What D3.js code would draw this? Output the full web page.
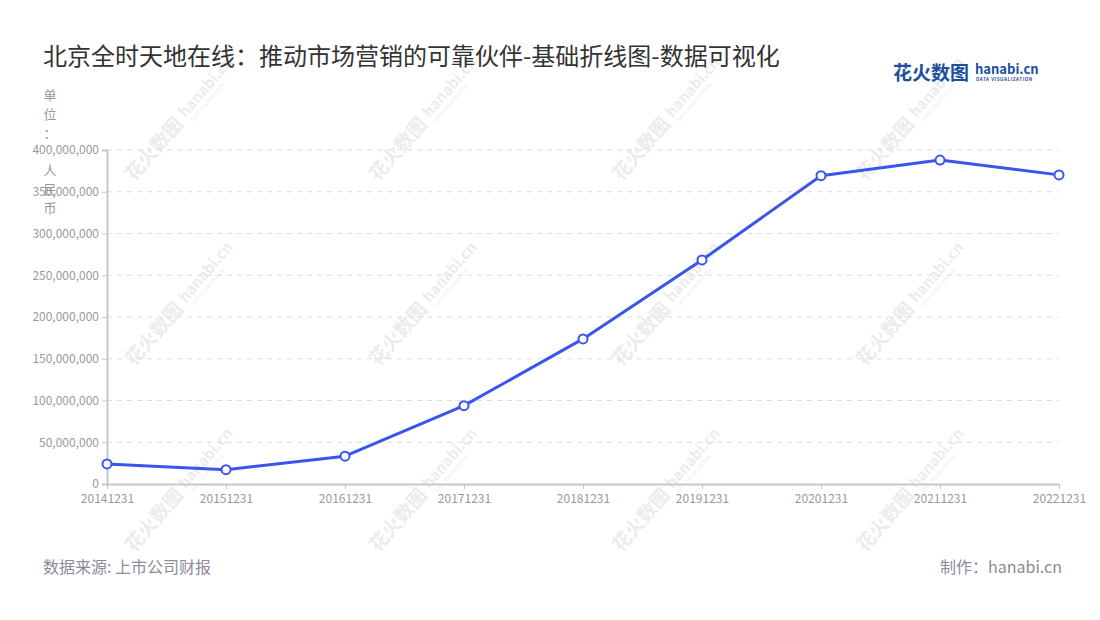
<!DOCTYPE html>
<html><head><meta charset="utf-8">
<script src="https://cdn.jsdelivr.net/npm/d3@7/dist/d3.min.js"></script>
<style>
html,body{margin:0;padding:0;background:#fff;}
svg{display:block;font-family:"Noto Sans CJK SC","Noto Sans",sans-serif;}
</style></head>
<body>
<svg id="c" width="1100" height="620"></svg>
<script>
const titleText = "北京全时天地在线：推动市场营销的可靠伙伴-基础折线图-数据可视化";
const categories = ["20141231","20151231","20161231","20171231","20181231","20191231","20201231","20211231","20221231"];
const values = [24000000, 17200000, 33300000, 93800000, 173800000, 268300000, 369200000, 388000000, 370200000];
const yTicks = [0, 50000000, 100000000, 150000000, 200000000, 250000000, 300000000, 350000000, 400000000];
const unitLines = ["单","位","：","","人","民","币"];
const sourceText = "数据来源: 上市公司财报";
const makerText = "制作：hanabi.cn";

(function(){
const svg = d3.select("#c");
const pL = 107, pR = 1059, pT = 150, pB = 484;

const x = d3.scalePoint().domain(categories).range([pL, pR]);
const y = d3.scaleLinear().domain([0, 400000000]).range([pB, pT]);

// watermarks
const wmX = [134, 378, 621, 865], wmY = [182, 367, 553];
const wm = svg.append("g").attr("class","wm");
wmY.forEach(wy => wmX.forEach(wx => {
  const g = wm.append("g").attr("transform", `translate(${wx},${wy}) rotate(-49)`).attr("opacity",0.4);
  g.append("text").attr("x",0).attr("y",0).attr("font-size",19).attr("font-weight","bold")
    .attr("fill","#d0d0d0").text("花火数图");
  g.append("text").attr("x",82).attr("y",-3).attr("font-size",15).attr("font-weight","bold")
    .attr("fill","#d0d0d0").text("hanabi.cn");
  g.append("text").attr("x",84).attr("y",5).attr("font-size",5)
    .attr("fill","#d0d0d0").text("DATA VISUALIZATION");
}));

// title
svg.append("text").attr("x",43).attr("y",65).attr("font-size",24).attr("fill","#333")
  .text(titleText);

// logo
const logo = svg.append("g");
logo.append("text").attr("x",893).attr("y",80).attr("font-size",19).attr("font-weight","bold")
  .attr("fill","#1d4f9f").text("花火数图");
logo.append("text").attr("x",975).attr("y",74).attr("font-size",13).attr("font-weight","bold")
  .attr("fill","#1d4f9f").text("hanabi.cn");
logo.append("text").attr("x",976).attr("y",81).attr("font-size",4.5).attr("font-weight","bold")
  .attr("letter-spacing",0.6).attr("fill","#1d4f9f").text("DATA VISUALIZATION");

// grid lines
svg.append("g").selectAll("line").data(yTicks.filter(d => d > 0)).join("line")
  .attr("x1", pL).attr("x2", pR).attr("y1", d => y(d)).attr("y2", d => y(d))
  .attr("stroke","#dcdcdc").attr("stroke-dasharray","5,5").attr("stroke-width",1);

// y axis
const yAxis = d3.axisLeft(y).tickValues(yTicks).tickSize(5).tickPadding(3)
  .tickFormat(d3.format(","));
const ya = svg.append("g").attr("transform",`translate(${pL},0)`).call(yAxis);
ya.select(".domain").attr("stroke","#c8c8c8").attr("stroke-width",2);
ya.selectAll(".tick line").attr("stroke","#c8c8c8");
ya.selectAll(".tick text").attr("fill","#999").attr("font-size",12)
  .attr("font-family","'Noto Sans CJK SC',sans-serif");

// x axis
const xAxis = d3.axisBottom(x).tickSize(5).tickPadding(5).tickSizeOuter(0);
const xa = svg.append("g").attr("transform",`translate(0,${pB})`).call(xAxis);
xa.select(".domain").attr("stroke","#c8c8c8").attr("stroke-width",2);
xa.selectAll(".tick line").attr("stroke","#c8c8c8");
xa.selectAll(".tick text").attr("fill","#999").attr("font-size",12)
  .attr("font-family","'Noto Sans CJK SC',sans-serif");

// unit label (vertical)
svg.append("g").selectAll("text").data(unitLines).join("text")
  .attr("x",50).attr("y",(d,i) => 100 + i*18.8).attr("text-anchor","middle")
  .attr("font-size",13).attr("fill","#999").text(d => d);

// line
const line = d3.line().x((d,i) => x(categories[i])).y(d => y(d));
svg.append("path").datum(values).attr("d", line).attr("fill","none")
  .attr("stroke","#3a55ec").attr("stroke-width",3).attr("stroke-linejoin","round");
svg.append("g").selectAll("circle").data(values).join("circle")
  .attr("cx",(d,i) => x(categories[i])).attr("cy", d => y(d)).attr("r",4.5)
  .attr("fill","#fff").attr("stroke","#3a55ec").attr("stroke-width",2);

// footer
svg.append("text").attr("x",43).attr("y",573).attr("font-size",16).attr("fill","#8b8b99").text(sourceText);
svg.append("text").attr("x",1062).attr("y",573).attr("text-anchor","end").attr("font-size",16)
  .attr("fill","#8b8b99").text(makerText);
})();
</script>
</body></html>
